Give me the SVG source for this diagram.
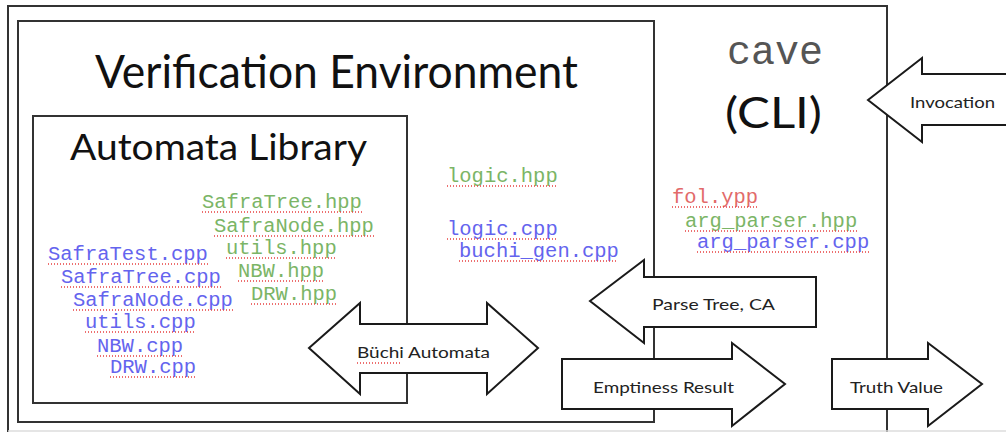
<svg xmlns="http://www.w3.org/2000/svg" width="1006" height="432" viewBox="0 0 1006 432">
  <style>
    .box { fill: none; stroke: #333; stroke-width: 2; }
    .arrow { fill: #fff; stroke: #1a1a1a; stroke-width: 2; stroke-linejoin: miter; }
    .title { font-family: Lato, "Open Sans", sans-serif; fill: #111; }
    .lbl { font-family: Lato, "Open Sans", sans-serif; font-size: 16px; fill: #222; }
    .code { font-family: "Liberation Mono", "DejaVu Sans Mono", monospace; font-size: 20.5px; }
    .hpp { fill: #7bb566; }
    .cpp { fill: #6464ee; }
    .ypp { fill: #e26a6a; }
    .squig { stroke: #e84040; stroke-width: 1.4; stroke-dasharray: 1 2; fill: none; }
  </style>

  <rect width="1006" height="432" fill="#fff"/>

  <!-- cave (CLI) outer container -->
  <g id="cave-cli">
    <rect class="box" x="8" y="6" width="879" height="440"/>
    <line x1="8" y1="431" x2="1006" y2="431" stroke="#ddd" stroke-width="1.5"/>
    <text x="727" y="64" font-family="Liberation Mono, monospace" font-size="40" fill="#555">cave</text>
    <text class="title" x="725" y="128" font-size="42" textLength="97" lengthAdjust="spacingAndGlyphs">(CLI)</text>
    <text class="code ypp" x="672" y="203">fol.ypp</text>
    <line class="squig" x1="672" y1="207" x2="758" y2="207"/>
    <text class="code hpp" x="685" y="227">arg_parser.hpp</text>
    <line class="squig" x1="685" y1="231" x2="857" y2="231"/>
    <text class="code cpp" x="697" y="248">arg_parser.cpp</text>
    <line class="squig" x1="697" y1="252" x2="869" y2="252"/>
  </g>

  <!-- Verification Environment -->
  <g id="verification-env">
    <rect class="box" x="18" y="21" width="636" height="401"/>
    <text class="title" x="95" y="88" font-size="46" textLength="483" lengthAdjust="spacingAndGlyphs">Verification Environment</text>
    <text class="code hpp" x="447" y="182">logic.hpp</text>
    <line class="squig" x1="447" y1="186" x2="557" y2="186"/>
    <text class="code cpp" x="447" y="235">logic.cpp</text>
    <line class="squig" x1="447" y1="239" x2="557" y2="239"/>
    <text class="code cpp" x="459" y="257">buchi_gen.cpp</text>
    <line class="squig" x1="459" y1="261" x2="618" y2="261"/>
  </g>

  <!-- Automata Library -->
  <g id="automata-library">
    <rect class="box" x="33" y="116" width="374" height="287"/>
    <text class="title" x="70" y="160" font-size="37" textLength="297" lengthAdjust="spacingAndGlyphs">Automata Library</text>

    <text class="code hpp" x="202" y="208">SafraTree.hpp</text>
    <line class="squig" x1="202" y1="212" x2="362" y2="212"/>
    <text class="code hpp" x="214" y="232">SafraNode.hpp</text>
    <line class="squig" x1="214" y1="236" x2="374" y2="236"/>
    <text class="code hpp" x="226" y="254">utils.hpp</text>
    <line class="squig" x1="226" y1="258" x2="337" y2="258"/>
    <text class="code hpp" x="238" y="277">NBW.hpp</text>
    <line class="squig" x1="238" y1="281" x2="324" y2="281"/>
    <text class="code hpp" x="251" y="300">DRW.hpp</text>
    <line class="squig" x1="251" y1="304" x2="337" y2="304"/>

    <text class="code cpp" x="48" y="260">SafraTest.cpp</text>
    <line class="squig" x1="48" y1="264" x2="208" y2="264"/>
    <text class="code cpp" x="61" y="283">SafraTree.cpp</text>
    <line class="squig" x1="61" y1="287" x2="221" y2="287"/>
    <text class="code cpp" x="73" y="306">SafraNode.cpp</text>
    <line class="squig" x1="73" y1="310" x2="233" y2="310"/>
    <text class="code cpp" x="85" y="328">utils.cpp</text>
    <line class="squig" x1="85" y1="332" x2="195" y2="332"/>
    <text class="code cpp" x="97" y="352">NBW.cpp</text>
    <line class="squig" x1="97" y1="356" x2="183" y2="356"/>
    <text class="code cpp" x="110" y="373">DRW.cpp</text>
    <line class="squig" x1="110" y1="377" x2="196" y2="377"/>
  </g>

  <!-- data flow arrows -->
  <g id="connectors">
    <g id="invocation">
      <path class="arrow" d="M868,100 L922,58 L922,74 L1012,74 L1012,125 L922,125 L922,142 Z"/>
      <text class="lbl" x="910" y="108" textLength="85" lengthAdjust="spacingAndGlyphs">Invocation</text>
    </g>
    <g id="parse-tree">
      <path class="arrow" d="M590,301 L644,260 L644,277 L816,277 L816,327 L644,327 L644,343 Z"/>
      <text class="lbl" x="652" y="310" textLength="123" lengthAdjust="spacingAndGlyphs">Parse Tree, CA</text>
    </g>
    <g id="emptiness">
      <path class="arrow" d="M562,359 L732,359 L732,343 L785,384 L732,426 L732,409 L562,409 Z"/>
      <text class="lbl" x="593" y="393" textLength="141" lengthAdjust="spacingAndGlyphs">Emptiness Result</text>
    </g>
    <g id="truth-value">
      <path class="arrow" d="M832,359 L928,359 L928,343 L982,384 L928,426 L928,409 L832,409 Z"/>
      <text class="lbl" x="850" y="393" textLength="93" lengthAdjust="spacingAndGlyphs">Truth Value</text>
    </g>
    <g id="buchi">
      <path class="arrow" d="M309,348 L360,303 L360,324 L487,324 L487,303 L538,348 L487,394 L487,373 L360,373 L360,394 Z"/>
      <text class="lbl" x="357" y="358" textLength="133" lengthAdjust="spacingAndGlyphs">Büchi Automata</text>
      <line class="squig" x1="357" y1="363" x2="402" y2="363"/>
    </g>
  </g>
</svg>
